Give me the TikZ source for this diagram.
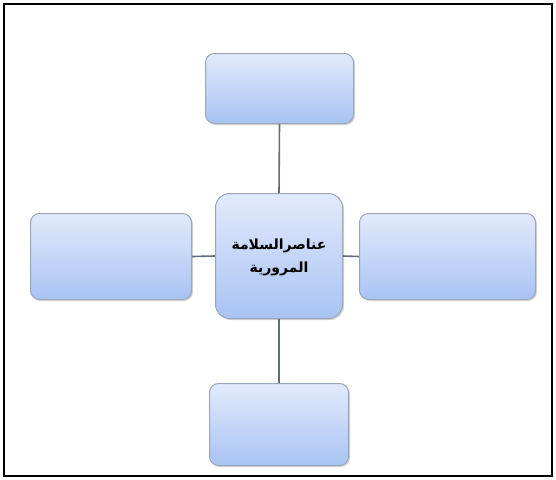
\documentclass[tikz,border=0pt]{standalone}
\usepackage{fontspec}
\newfontfamily\arabicfont[Script=Arabic]{DejaVu Sans}
\TeXXeTstate=1
\usetikzlibrary{shadows}
\definecolor{boxtop}{HTML}{E2EAFC}
\definecolor{boxbot}{HTML}{A8C3F3}
\definecolor{boxline}{HTML}{9AA6B8}
\definecolor{conn}{HTML}{5F6E7E}
\tikzset{
  bx/.style={draw=boxline, line width=1pt, rounded corners=9pt,
    top color=boxtop, bottom color=boxbot, anchor=north west,
    inner sep=0pt, drop shadow={shadow xshift=1.5pt, shadow yshift=-1.5pt, opacity=0.35, fill=gray}},
  conn/.style={draw=conn, line width=1.6pt}
}
\begin{document}
\begin{tikzpicture}[x=1pt,y=-1pt]
\useasboundingbox (0,0) rectangle (556,479);
\draw[black, line width=1.2pt] (4,4) rectangle (552,476);
\node[bx, minimum width=148pt, minimum height=70pt] (top) at (205,53) {};
\node[bx, minimum width=161pt, minimum height=86pt] (left) at (30,213) {};
\node[bx, minimum width=176pt, minimum height=86pt] (right) at (359,213) {};
\node[bx, minimum width=139pt, minimum height=82pt] (bot) at (209,383) {};
\node[bx, minimum width=127pt, minimum height=125pt, rounded corners=14pt] (c) at (215,193) {};
\node[align=center, font=\arabicfont\bfseries\fontsize{14}{23}\selectfont] (t) at ([yshift=-1pt]c.center) {\beginR عناصرالسلامة\endR\\\beginR المرورية\endR};
\draw[conn] (top.south) -- (c.north);
\draw[conn] (c.south) -- (bot.north);
\draw[conn] (left.east) -- (c.west);
\draw[conn] (c.east) -- (right.west);
\end{tikzpicture}
\end{document}
